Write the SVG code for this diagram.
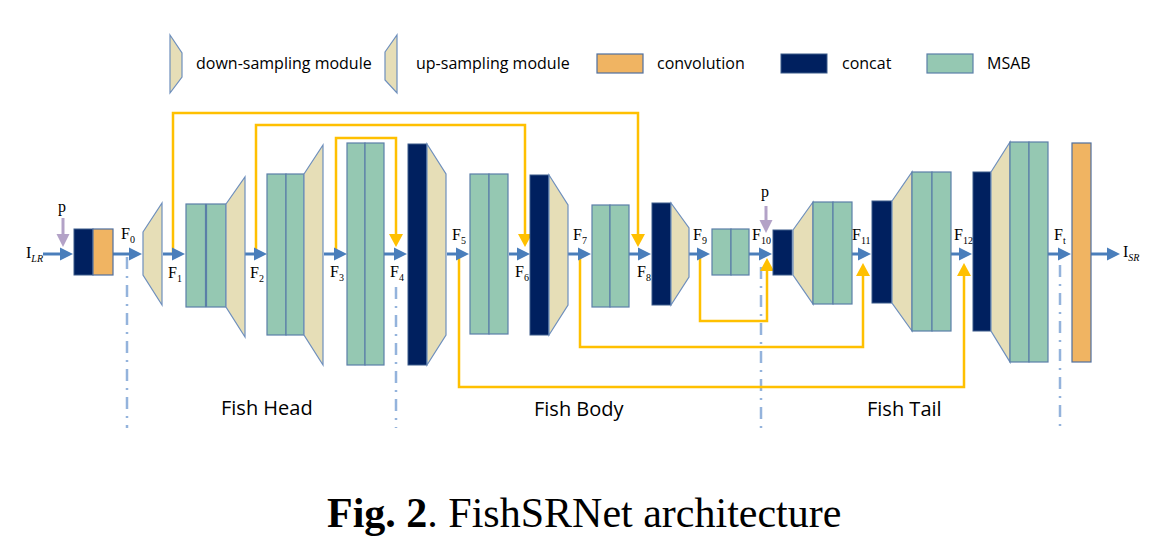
<svg xmlns="http://www.w3.org/2000/svg" width="1159" height="545" viewBox="0 0 1159 545">
<style>
.msab{fill:#95C8B2;stroke:#5B7FA8;stroke-width:1.2}
.trap{fill:#E6DEB7;stroke:#6E8FBD;stroke-width:1.2}
.concat{fill:#00205F;stroke:#3A5A8A;stroke-width:1}
.conv{fill:#F0B462;stroke:#4F6F9F;stroke-width:1.2}
.flow{fill:none;stroke:#4A7EBB;stroke-width:3;marker-end:url(#ab)}
.skip{fill:none;stroke:#FFC000;stroke-width:2.5;marker-end:url(#ay)}
.prior{fill:none;stroke:#B3A2C7;stroke-width:3;marker-end:url(#ap)}
.div{fill:none;stroke:#94B3DC;stroke-width:2.5;stroke-dasharray:12 7 2 7}
.leg{font-family:"Open Sans","Liberation Sans",sans-serif;font-size:16px;fill:#000}
.sec{font-family:"Open Sans","Liberation Sans",sans-serif;font-size:20px;fill:#000}
.f{font-family:"Liberation Serif",serif;font-size:16px;fill:#000}
.sub{font-size:10px}
.cap{font-family:"Liberation Serif",serif;font-size:42px;fill:#000}
</style>
<defs>
<marker id="ab" markerUnits="userSpaceOnUse" markerWidth="14" markerHeight="14" refX="8" refY="7" orient="auto"><path d="M0,0.5 L13,7 L0,13.5 z" fill="#4A7EBB"/></marker>
<marker id="ay" markerUnits="userSpaceOnUse" markerWidth="15" markerHeight="15" refX="8" refY="7.5" orient="auto"><path d="M0,0.5 L13,7.5 L0,14.5 z" fill="#FFC000"/></marker>
<marker id="ap" markerUnits="userSpaceOnUse" markerWidth="14" markerHeight="14" refX="8" refY="7" orient="auto"><path d="M0,0.5 L13,7 L0,13.5 z" fill="#B3A2C7"/></marker>
</defs>

<g id="legend">
<polygon class="trap" points="170,35 182,53 182,77 170,93"/>
<text class="leg" x="196" y="69">down-sampling module</text>
<polygon class="trap" points="385,52 397,35 397,93 385,80"/>
<text class="leg" x="416" y="69">up-sampling module</text>
<rect class="conv" x="597" y="54" width="46" height="19"/>
<text class="leg" x="657" y="69">convolution</text>
<rect class="concat" x="781" y="54" width="46" height="19"/>
<text class="leg" x="842" y="69">concat</text>
<rect class="msab" x="927" y="54" width="46" height="19"/>
<text class="leg" x="987" y="69">MSAB</text>
</g>

<g id="dividers">
<path class="div" d="M127,257 V428"/>
<path class="div" d="M396,287 V428"/>
<path class="div" d="M761,267 V428"/>
<path class="div" d="M1060,265 V428"/>
</g>

<g id="connectors">
<path class="skip" d="M173,254 V113 H638 V242"/>
<path class="skip" d="M256,254 V125 H525 V242"/>
<path class="skip" d="M336,254 V138 H396 V242"/>
<path class="skip" d="M459,254 V387 H964 V268"/>
<path class="skip" d="M580,254 V347 H863 V268"/>
<path class="skip" d="M700,254 V321 H767 V263"/>
<path class="prior" d="M63,218 V242"/>
<path class="prior" d="M766,206 V228"/>
<path class="flow" d="M43,254 H68"/>
<path class="flow" d="M113,254 H137"/>
<path class="flow" d="M163,254 H180"/>
<path class="flow" d="M245,254 H262"/>
<path class="flow" d="M324,254 H342"/>
<path class="flow" d="M384,254 H402"/>
<path class="flow" d="M447,254 H464"/>
<path class="flow" d="M509,254 H525"/>
<path class="flow" d="M568,254 H586"/>
<path class="flow" d="M629,254 H646"/>
<path class="flow" d="M689,254 H705"/>
<path class="flow" d="M749,254 H767"/>
<path class="flow" d="M852,254 H866"/>
<path class="flow" d="M951,254 H967"/>
<path class="flow" d="M1048,254 H1066"/>
<path class="flow" d="M1091,254 H1115"/>
</g>

<g id="input-block">
<rect class="concat" x="74" y="229" width="19" height="46"/>
<rect class="conv" x="93" y="229" width="20" height="46"/>
</g>
<g id="trap1"><polygon class="trap" points="143,232 162,203 162,305 143,275"/></g>
<g id="msab1"><rect class="msab" x="186" y="204" width="19.5" height="103"/><rect class="msab" x="206.5" y="204" width="19.5" height="103"/></g>
<g id="trap2"><polygon class="trap" points="226,204 245,177 245,337 226,307"/></g>
<g id="msab2"><rect class="msab" x="267" y="174" width="19" height="161"/><rect class="msab" x="286" y="174" width="18" height="161"/></g>
<g id="trap3"><polygon class="trap" points="304,174 323,145 323,365 304,335"/></g>
<g id="msab3"><rect class="msab" x="347" y="143" width="18" height="222"/><rect class="msab" x="365" y="143" width="19" height="222"/></g>
<g id="concat1"><rect class="concat" x="408" y="144" width="19" height="221"/></g>
<g id="trap4"><polygon class="trap" points="427,144 446,174 446,335 427,365"/></g>
<g id="msab4"><rect class="msab" x="470" y="174" width="19" height="160"/><rect class="msab" x="489" y="174" width="19" height="160"/></g>
<g id="concat2"><rect class="concat" x="530" y="175" width="19" height="160"/></g>
<g id="trap5"><polygon class="trap" points="549,175 568,205 568,305 549,335"/></g>
<g id="msab5"><rect class="msab" x="592" y="205" width="18" height="102"/><rect class="msab" x="610" y="205" width="19" height="102"/></g>
<g id="concat3"><rect class="concat" x="652" y="203" width="19" height="102"/></g>
<g id="trap6"><polygon class="trap" points="671,203 689,228 689,277 671,305"/></g>
<g id="msab6"><rect class="msab" x="712" y="229" width="19" height="46"/><rect class="msab" x="731" y="229" width="18" height="46"/></g>
<g id="concat4"><rect class="concat" x="773" y="230" width="19" height="45"/></g>
<g id="trap7"><polygon class="trap" points="793,230 813,202 813,304 793,275"/></g>
<g id="msab7"><rect class="msab" x="813" y="202" width="20" height="102"/><rect class="msab" x="833" y="202" width="19" height="102"/></g>
<g id="concat5"><rect class="concat" x="872" y="201" width="20" height="102"/></g>
<g id="trap8"><polygon class="trap" points="892,201 912,172 912,331 892,303"/></g>
<g id="msab8"><rect class="msab" x="912" y="172" width="20" height="159"/><rect class="msab" x="932" y="172" width="19" height="159"/></g>
<g id="concat6"><rect class="concat" x="973" y="172" width="18" height="159"/></g>
<g id="trap9"><polygon class="trap" points="991,172 1010,142 1010,362 991,331"/></g>
<g id="msab9"><rect class="msab" x="1010" y="142" width="19" height="220"/><rect class="msab" x="1029" y="142" width="19" height="220"/></g>
<g id="conv-out"><rect class="conv" x="1072" y="143" width="19" height="219"/></g>

<g id="labels">
<text class="f" x="26" y="258" font-size="17">I<tspan class="sub" font-style="italic" dy="4">LR</tspan></text>
<text class="f" x="58" y="212">p</text>
<text class="f" x="761" y="197">p</text>
<text class="f" x="121" y="239">F<tspan class="sub" dy="4">0</tspan></text>
<text class="f" x="168" y="278">F<tspan class="sub" dy="4">1</tspan></text>
<text class="f" x="250" y="278">F<tspan class="sub" dy="4">2</tspan></text>
<text class="f" x="330" y="277">F<tspan class="sub" dy="4">3</tspan></text>
<text class="f" x="390" y="277">F<tspan class="sub" dy="4">4</tspan></text>
<text class="f" x="452" y="240">F<tspan class="sub" dy="4">5</tspan></text>
<text class="f" x="515" y="277">F<tspan class="sub" dy="4">6</tspan></text>
<text class="f" x="573" y="240">F<tspan class="sub" dy="4">7</tspan></text>
<text class="f" x="637" y="277">F<tspan class="sub" dy="4">8</tspan></text>
<text class="f" x="693" y="240">F<tspan class="sub" dy="4">9</tspan></text>
<text class="f" x="752" y="240">F<tspan class="sub" dy="4">10</tspan></text>
<text class="f" x="852" y="240">F<tspan class="sub" dy="4">11</tspan></text>
<text class="f" x="954" y="240">F<tspan class="sub" dy="4">12</tspan></text>
<text class="f" x="1054" y="240">F<tspan class="sub" dy="4">t</tspan></text>
<text class="f" x="1123" y="257" font-size="17">I<tspan class="sub" font-style="italic" dy="4">SR</tspan></text>
<text class="sec" x="221" y="415">Fish Head</text>
<text class="sec" x="534" y="416">Fish Body</text>
<text class="sec" x="867" y="416">Fish Tail</text>
<text class="cap" x="327" y="527"><tspan font-weight="bold">Fig. 2</tspan>. FishSRNet architecture</text>
</g>
</svg>
